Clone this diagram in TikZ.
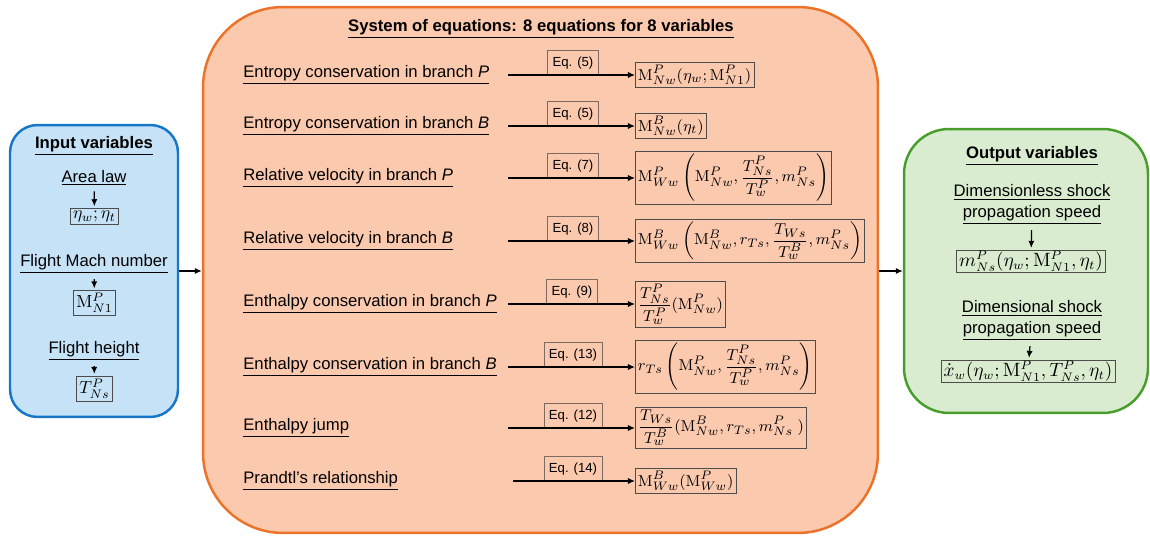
\documentclass[tikz,border=0pt]{standalone}
\usepackage{amsmath}
\usepackage[no-math]{fontspec}
\setmainfont{Liberation Sans}
\usetikzlibrary{arrows.meta}

\definecolor{inblue}{RGB}{198,226,247}
\definecolor{inborder}{RGB}{22,118,200}
\definecolor{sysfill}{RGB}{251,201,174}
\definecolor{sysborder}{RGB}{236,114,40}
\definecolor{outfill}{RGB}{218,236,208}
\definecolor{outborder}{RGB}{72,158,44}
\definecolor{eqborder}{RGB}{125,105,95}

\begin{document}
\begin{tikzpicture}[
    x=0.02cm, y=-0.02cm,
    inpanel/.style={
        rectangle,
        rounded corners=0.55cm,
        draw=inborder,
        fill=inblue,
        line width=1.4pt,
        minimum width=3.36cm,
        minimum height=5.84cm
    },
    syspanel/.style={
        rectangle,
        rounded corners=1.6cm,
        draw=sysborder,
        fill=sysfill,
        line width=1.4pt,
        minimum width=13.5cm,
        minimum height=10.52cm
    },
    outpanel/.style={
        rectangle,
        rounded corners=0.9cm,
        draw=outborder,
        fill=outfill,
        line width=1.4pt,
        minimum width=4.88cm,
        minimum height=5.68cm
    },
    boxtitle/.style={font=\fontsize{9.5}{12}\selectfont\bfseries, inner sep=1pt},
    subtitle/.style={font=\fontsize{9.5}{12}\selectfont, align=center, inner sep=1pt},
    rowlabel/.style={font=\fontsize{9.5}{12}\selectfont, anchor=west, inner sep=0pt},
    invar/.style={draw=black!70, thin, inner sep=1.5pt, font=\fontsize{10}{12}\selectfont},
    resbox/.style={draw=black!70, thin, inner sep=1.5pt, anchor=west, font=\fontsize{9.5}{11}\selectfont},
    outvar/.style={draw=black!70, thin, inner xsep=1.5pt, inner ysep=0.5pt, font=\fontsize{10.5}{12}\selectfont},
    eqtag/.style={
        draw=eqborder,
        thin,
        anchor=south,
        minimum height=0.48cm,
        inner xsep=0.1cm,
        font=\fontsize{7.5}{9}\selectfont
    },
    arrow/.style={-{Latex[length=4pt,width=3.5pt]}, line width=0.7pt},
    downarrow/.style={arrow, shorten <=2pt, shorten >=1pt}
]
\useasboundingbox (0,0) rectangle (1150,536);

% panels
\node[inpanel] (inbox) at (94,271) {};
\node[syspanel] (sysbox) at (540.5,270) {};
\node[outpanel] (outbox) at (1026,271) {};

\draw[arrow] (inbox.east) -- (inbox.east -| sysbox.west);
\draw[arrow] (sysbox.east |- outbox.west) -- (outbox.west);

% input variables
\node[boxtitle] (intitle) at (94,146) {\underline{Input variables}};
\node[subtitle] (area) at (94,178) {\underline{Area law}};
\node[invar] (eta) at (94.5,216.5) {$\eta_w;\eta_t$};
\node[subtitle] (mach) at (94,264) {\underline{Flight Mach number}};
\node[invar] (machvar) at (94.5,303) {$\mathrm{M}^{P}_{N1}$};
\node[subtitle] (height) at (94,351) {\underline{Flight height}};
\node[invar] (tvar) at (94.5,388.5) {$T^{P}_{Ns}$};

\draw[downarrow] (area) -- (eta);
\draw[downarrow] (mach) -- (machvar);
\draw[downarrow] (height) -- (tvar);

% system of equations
\node[boxtitle] (systitle) at (541,29) {\underline{System of equations: 8 equations for 8 variables}};

\node[rowlabel] (l1) at (243,75) {\underline{Entropy conservation in branch \textit{P}}};
\node[rowlabel] (l2) at (243,126) {\underline{Entropy conservation in branch \textit{B}}};
\node[rowlabel] (l3) at (243,178) {\underline{Relative velocity in branch \textit{P}}};
\node[rowlabel] (l4) at (243,241) {\underline{Relative velocity in branch \textit{B}}};
\node[rowlabel] (l5) at (243,304) {\underline{Enthalpy conservation in branch \textit{P}}};
\node[rowlabel] (l6) at (243,367) {\underline{Enthalpy conservation in branch \textit{B}}};
\node[rowlabel] (l7) at (243,428) {\underline{Enthalpy jump}};
\node[rowlabel] (l8) at (243,481) {\underline{Prandtl’s relationship}};

\coordinate (s1) at (508,75);
\coordinate (s2) at (508,126);
\coordinate (s3) at (508,178);
\coordinate (s4) at (508,241);
\coordinate (s5) at (508,304);
\coordinate (s6) at (508,367);
\coordinate (s7) at (508,428);
\coordinate (s8) at (513,481);

\node[resbox] (r1) at (635,75) {$\mathrm{M}^{P}_{Nw}(\eta_w;\mathrm{M}^{P}_{N1})$};
\node[resbox] (r2) at (635,126) {$\mathrm{M}^{B}_{Nw}(\eta_t)$};
\node[resbox] (r3) at (635,178) {$\mathrm{M}^{P}_{Ww}\left(\mathrm{M}^{P}_{Nw},\dfrac{T^{P}_{Ns}}{T^{P}_{w}},m^{P}_{Ns}\right)$};
\node[resbox] (r4) at (635,241) {$\mathrm{M}^{B}_{Ww}\left(\mathrm{M}^{B}_{Nw},r_{Ts},\dfrac{T_{Ws}}{T^{B}_{w}},m^{P}_{Ns}\right)$};
\node[resbox] (r5) at (635,304) {$\dfrac{T^{P}_{Ns}}{T^{P}_{w}}(\mathrm{M}^{P}_{Nw})$};
\node[resbox] (r6) at (635,367) {$r_{Ts}\left(\mathrm{M}^{P}_{Nw},\dfrac{T^{P}_{Ns}}{T^{P}_{w}},m^{P}_{Ns}\right)$};
\node[resbox] (r7) at (635,428) {$\dfrac{T_{Ws}}{T^{B}_{w}}(\mathrm{M}^{B}_{Nw},r_{Ts},m^{P}_{Ns}\;)$};
\node[resbox] (r8) at (635,481) {$\mathrm{M}^{B}_{Ww}(\mathrm{M}^{P}_{Ww})$};

\node[eqtag] (e1) at (573,75) {Eq. (5)};
\node[eqtag] (e2) at (573,126) {Eq. (5)};
\node[eqtag] (e3) at (573,178) {Eq. (7)};
\node[eqtag] (e4) at (573,241) {Eq. (8)};
\node[eqtag] (e5) at (572,304) {Eq. (9)};
\node[eqtag] (e6) at (573,367) {Eq. (13)};
\node[eqtag] (e7) at (573,428) {Eq. (12)};
\node[eqtag] (e8) at (573,481) {Eq. (14)};

\draw[arrow] (s1) -- (r1.west);
\draw[arrow] (s2) -- (r2.west);
\draw[arrow] (s3) -- (r3.west);
\draw[arrow] (s4) -- (r4.west);
\draw[arrow] (s5) -- (r5.west);
\draw[arrow] (s6) -- (r6.west);
\draw[arrow] (s7) -- (r7.west);
\draw[arrow] (s8) -- (r8.west);

% output variables
\node[boxtitle] (outtitle) at (1032,156) {\underline{Output variables}};
\node[subtitle] (nondim) at (1032,204.5) {\underline{Dimensionless shock}\\\underline{propagation speed}};
\node[outvar] (mvar) at (1031,261) {$m^{P}_{Ns}(\eta_w;\mathrm{M}^{P}_{N1},\eta_t)$};
\node[subtitle] (dim) at (1032,320.5) {\underline{Dimensional shock}\\\underline{propagation speed}};
\node[outvar] (xvar) at (1028,371) {$\dot{x}_w(\eta_w;\mathrm{M}^{P}_{N1},T^{P}_{Ns},\eta_t)$};

\draw[downarrow] (nondim) -- (mvar);
\draw[downarrow] (dim) -- (xvar);

\end{tikzpicture}
\end{document}
